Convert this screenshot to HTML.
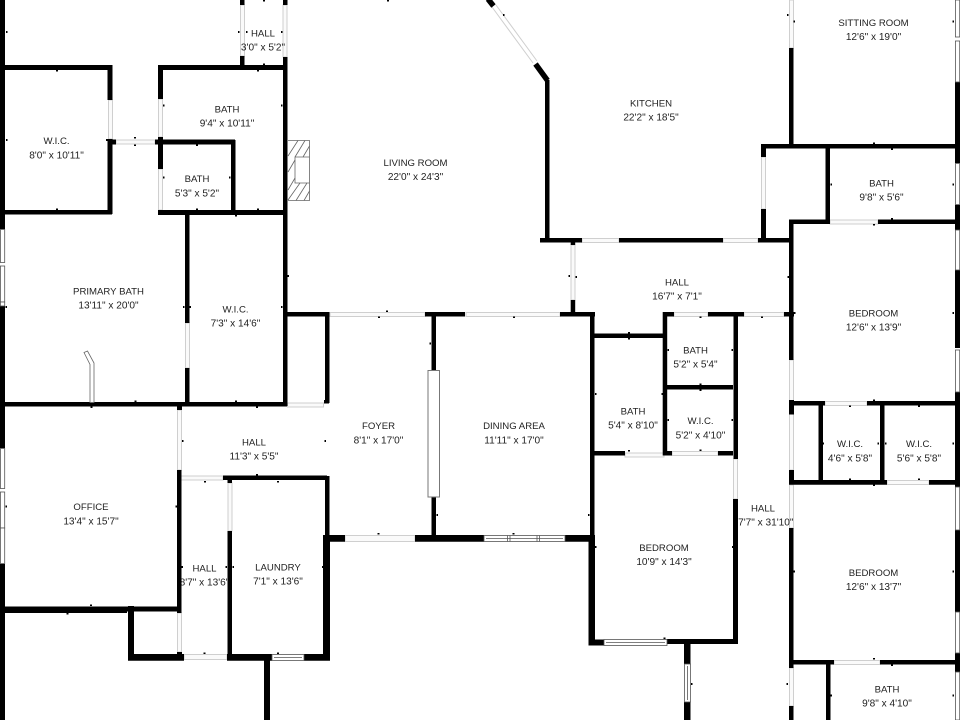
<!DOCTYPE html>
<html><head><meta charset="utf-8"><title>Floor plan</title>
<style>html,body{margin:0;padding:0;background:#fff}svg{display:block}text{font-family:"Liberation Sans",sans-serif;font-size:9.6px;fill:#222;text-anchor:middle}text:nth-child(even){font-size:10.1px}</style>
</head><body>
<svg width="960" height="720" viewBox="0 0 960 720" xmlns="http://www.w3.org/2000/svg">
<rect width="960" height="720" fill="#fff"/>
<!-- openings -->
<g fill="#fafafa" stroke="#cfcfcf" stroke-width="1">
<path d="M240.5 5h4v51h-4zM283 5h4v52h-4zM108.500 100h4v39h-4zM116 140h39v4h-39zM158.500 99h4v38h-4zM158.500 169h4v41h-4zM185.500 323h4v45h-4zM287.500 403h36v4h-36zM330 312.500h95v4h-95zM466 312.500h94v4h-94zM571 245h4v55h-4zM582 238.500h37v4h-37zM723 238.500h35v4h-35zM761.500 157h4v52h-4zM789.500 0h4v48h-4zM830 220h48v4h-48zM674 312.500h34v4h-34zM744 312.500h40v4h-40zM625 453h39v4h-39zM672 451.500h46v4h-46zM733.500 459h4v40h-4zM789.500 360h4v41h-4zM789.500 414h4v56h-4zM825 401.500h42v4h-42zM887 480.500h42v4h-42zM789.500 485h4v43h-4zM834 660.500h46v4h-46zM789.500 668h4v38h-4zM177.500 410h4v60h-4zM181 476h42v4h-42zM177.500 613h4v39h-4zM184 654.500h43v5h-43zM228 483h4v48h-4zM345 535.500h70v6h-70z"/>
</g>
<path d="M492 7 L533 63 M496 5 L537 61" stroke="#cfcfcf" stroke-width="1" fill="none"/>
<g>
<text x="263" y="36.5">HALL</text><text x="263" y="50.5">3'0" x 5'2"</text>
<text x="227" y="112.5">BATH</text><text x="227" y="126.5">9'4" x 10'11"</text>
<text x="56.5" y="144">W.I.C.</text><text x="56.5" y="158.5">8'0" x 10'11"</text>
<text x="197" y="182">BATH</text><text x="197" y="196.5">5'3" x 5'2"</text>
<text x="415.5" y="166">LIVING ROOM</text><text x="415.5" y="180">22'0" x 24'3"</text>
<text x="651" y="106.5">KITCHEN</text><text x="651" y="120.5">22'2" x 18'5"</text>
<text x="873.5" y="26">SITTING ROOM</text><text x="873.5" y="40">12'6" x 19'0"</text>
<text x="881.5" y="186.5">BATH</text><text x="881.5" y="200.5">9'8" x 5'6"</text>
<text x="108.5" y="294.5">PRIMARY BATH</text><text x="108.5" y="308.5">13'11" x 20'0"</text>
<text x="235.5" y="312.5">W.I.C.</text><text x="235.5" y="326.5">7'3" x 14'6"</text>
<text x="254" y="445.5">HALL</text><text x="254" y="459.5">11'3" x 5'5"</text>
<text x="378.5" y="429">FOYER</text><text x="378.5" y="443.5">8'1" x 17'0"</text>
<text x="514" y="429">DINING AREA</text><text x="514" y="443.5">11'11" x 17'0"</text>
<text x="633" y="414.5">BATH</text><text x="633" y="428.5">5'4" x 8'10"</text>
<text x="677" y="285.5">HALL</text><text x="677" y="299.5">16'7" x 7'1"</text>
<text x="695.5" y="353.5">BATH</text><text x="695.5" y="367.5">5'2" x 5'4"</text>
<text x="700.5" y="424">W.I.C.</text><text x="700.5" y="438.5">5'2" x 4'10"</text>
<text x="873.5" y="316.5">BEDROOM</text><text x="873.5" y="330.5">12'6" x 13'9"</text>
<text x="850" y="447">W.I.C.</text><text x="850" y="461.5">4'6" x 5'8"</text>
<text x="919" y="447">W.I.C.</text><text x="919" y="461.5">5'6" x 5'8"</text>
<text x="91" y="510">OFFICE</text><text x="91" y="524.5">13'4" x 15'7"</text>
<text x="204.5" y="571.5">HALL</text><text x="204.5" y="585.5">8'7" x 13'6"</text>
<text x="278" y="570.5">LAUNDRY</text><text x="278" y="584.5">7'1" x 13'6"</text>
<text x="664" y="551">BEDROOM</text><text x="664" y="565">10'9" x 14'3"</text>
<text x="763" y="511.5">HALL</text><text x="763" y="525.5">17'7" x 31'10"</text>
<text x="873.5" y="576">BEDROOM</text><text x="873.5" y="590">12'6" x 13'7"</text>
<text x="887" y="692.5">BATH</text><text x="887" y="706.5">9'8" x 4'10"</text>
</g>
<!-- walls -->
<path fill="#000" d="M0 0h5v229h-5zM0 306h5v142h-5zM0 564h5v156h-5z
M5 65h107v5h-107zM107.500 65h5v35h-5zM107.500 139h5v75h-5zM5 210h107v4.500h-107zM112 139.500h4v5h-4z
M158 65h129v5h-129zM158 65h5v34h-5zM158 137h5v32h-5zM158 210h129v5h-129zM155 139.500h80v5h-80zM231 140h4.500v73h-4.500z
M240 0h4.500v5h-4.500zM240 56h4.500v12h-4.500zM283 0h4.500v5h-4.500zM283 57h4.500v349h-4.500z
M185 213h4.500v110h-4.500zM185 368h4.500v36h-4.500z
M0 402h287v4.500h-287zM177 402h5v8h-5zM177 470h4.500v143h-4.500zM177 652h5v5h-5z
M287 312h40v4.500h-40zM325 312h4.500v91h-4.500zM324 400h5v3.500h-5z
M425 312h40v4.500h-40zM431.500 316h4.500v54h-4.500zM431.500 497h4.500v40h-4.500z
M560 312h35v4.500h-35zM570.700 238h4.500v7h-4.500zM570.700 300h4.500v13h-4.500zM590 312h4.500v223h-4.500zM588.500 535h6.500v110h-6.500zM588.500 639.500h15.500v6h-15.500z
M545 80h4.500v160h-4.500zM540 238h42v4.500h-42zM619 238h104v4.500h-104zM758 238h33v4.500h-33z
M667 639h71v5h-71zM733 499h5v145h-5zM684 644h6.500v20h-6.500zM684 702h6.500v18h-6.500z
M594 333.500h70v4.500h-70zM594 451h31v4.500h-31z
M662.700 312h4.500v143h-4.500zM662.700 312h11.300v4.500h-11.300zM708 312h36v4.500h-36zM733.500 316h4.500v143h-4.500zM667 385h66v4.500h-66zM662.700 451h9.300v4.500h-9.300zM718 451h15v4.500h-15zM784 312h10v4.500h-10z
M761 144h194v4.500h-194zM761 144h5v13h-5zM761 209h5v31h-5zM825.500 146h4.500v74h-4.500zM789 219.500h41v4.500h-41zM878 219.500h77v4.500h-77zM789 48h4.500v98h-4.500zM789 220h4.500v140h-4.500z
M955 82h5v70h-5zM955 144h5v19h-5zM955 205h5v25h-5zM955 270h5v78h-5zM955 392h5v95h-5zM955 530h5v82h-5zM955 653h5v19h-5z
M789 401h36v4.500h-36zM867 401h88v4.500h-88zM789 400h5v14.500h-5zM818.500 403h4.500v79h-4.500zM880 403h4.500v79h-4.500z
M789 480h98v4.700h-98zM929 480h26v4.700h-26zM789 470h5v10h-5zM789 528h4.500v140h-4.500zM789 660h45v4.500h-45zM880 660h75v4.500h-75zM789 706h4.500v14h-4.500zM826 664h4.500v56h-4.500z
M5 606.500h172v5h-172zM5 611h122v2h-122zM128 606h6v54h-6zM128 654h56v6.700h-56zM227 654h45v6.700h-45zM304 654h26v6.700h-26zM227.500 531h4.500v129h-4.500zM227.500 480h4.500v3h-4.500zM223 475.500h104v4.500h-104zM325 476h4.500v60h-4.500zM323 535h7v125h-7z
M327 535h18v6.700h-18zM415 535h69v6.700h-69zM565 535h30v6.700h-30zM264 660h6v60h-6z"/>
<path d="M547.500 80.500L535.500 64M493.500 6L488 -1" stroke="#000" stroke-width="5.500" fill="none"/>
<!-- windows -->
<g fill="#fff" stroke="#555" stroke-width=".8">
<rect x=".4" y="229.500" width="4.300" height="33"/><rect x=".4" y="266" width="4.300" height="36"/><rect x=".4" y="302" width="4.300" height="4"/>
<rect x=".4" y="448.500" width="4.300" height="40"/><rect x=".4" y="492" width="4.300" height="36"/><rect x=".4" y="528" width="4.300" height="35.500"/>
<rect x="955.400" y="0" width="4.300" height="37"/><rect x="955.400" y="41" width="4.300" height="41"/>
<rect x="955.400" y="163.500" width="4.300" height="41"/>
<rect x="955.400" y="230" width="4.300" height="40"/><rect x="955.400" y="350" width="4.300" height="42"/>
<rect x="955.400" y="487" width="4.300" height="43"/><rect x="955.400" y="612" width="4.300" height="41"/><rect x="955.400" y="672" width="4.300" height="48"/>
<rect x="484" y="535.500" width="81" height="6"/><path d="M486 538.500H563M507.500 535.500v6M510 535.500v6M537 535.500v6M539.500 535.500v6" fill="none"/>
<rect x="604" y="639.500" width="63" height="6"/><path d="M606 642.500H665" fill="none"/>
<rect x="684.500" y="664" width="6" height="38"/><path d="M687.500 666V700" fill="none"/>
<rect x="272" y="654.500" width="32" height="6"/><path d="M274 657.500H302" fill="none"/>
<rect x="428" y="370.500" width="11.500" height="126.500" stroke="#777" stroke-width="1"/>
</g>
<!-- fireplace -->
<g fill="none" stroke="#666" stroke-width=".8">
<path d="M288 140.500H309.500V200.500H288M295 157H309.500V183H295Z"/>
<path d="M288 156L298 140.500M288 172L295 160M295 157L305 140.500M303 157L309.500 146M288 190L295 178M288 200L300 183M296 200.500L307 183M304 200.500L309.500 191"/>
</g>
<!-- tub edge -->
<path d="M84 352.500L87.500 351L94 363V402.500H90V364.500Z" fill="#fff" stroke="#666" stroke-width=".8"/>
<!-- dimension ticks -->
<path fill="#000" d="M6 31h1.500v2h-1.500zM56 70h2v1.500h-2zM6 139h1.500v2h-1.500zM106 139h2v2h-2zM134 137h2v1.500h-2zM134 144.500h2v1.500h-2zM56 208.500h2v1.500h-2zM163 104.500h1.500v2h-1.500zM281 104.500h1.500v2h-1.500zM257 70h2v1.500h-2zM263 63.500h2v1.500h-2zM238 31h1.500v2h-1.500zM246 31h1.500v2h-1.500zM281 31h1.500v2h-1.500zM163 176.500h1.500v2h-1.500zM229 176.500h1.500v2h-1.500zM196 144.500h2v1.500h-2zM196 208.500h2v1.500h-2zM235 215h2v1.500h-2zM257 208.500h2v1.500h-2zM263 0h2v1.500h-2z
M503 14h1.500v2h-1.500zM387 0h2v1.500h-2zM787 14h1.500v2h-1.500zM793.500 20.500h1.500v2h-1.500zM952.500 20.500h1.500v2h-1.500zM873 142.500h2v1.500h-2zM891 148.500h2v1.500h-2zM830.500 183.500h1.500v2h-1.500zM952.500 183.500h1.500v2h-1.500zM891 218h2v1.500h-2zM873 224h2v1.500h-2z
M5.500 306h1.500v2h-1.500zM183 306h1.500v2h-1.500zM189.500 306h1.500v2h-1.500zM281 306h1.500v2h-1.500zM287.500 275h1.500v2h-1.500zM134.500 400.500h2v1.500h-2zM90.500 406.500h2v1.500h-2zM235 400.500h2v1.500h-2zM256 406.500h2v1.500h-2zM182 440h1.500v2h-1.500zM256 474h2v1.500h-2z
M386 310.500h2v1.500h-2zM378 316.500h2v1.500h-2zM327.500 342.500h1.500v2h-1.500zM429.500 342.500h1.500v2h-1.500zM513 316.500h2v1.500h-2zM568.500 275h1.500v2h-1.500zM575.500 276h1.500v2h-1.500zM628 332h2v1.500h-2zM628 338h2v1.500h-2zM595 393h1.500v2h-1.500zM628 450h2v1.500h-2zM324.500 440h1.500v2h-1.500z
M787.500 276h1.500v2h-1.500zM794 312h1.500v2h-1.500zM952.500 312h1.500v2h-1.500zM699.500 316.500h2v1.500h-2zM667.500 349h1.500v2h-1.500zM731.500 349h1.500v2h-1.500zM699.500 383.500h2v1.500h-2zM699.500 389.500h2v1.500h-2zM661.500 393h1.500v2h-1.500zM667.500 419h1.500v2h-1.500zM731.500 419h1.500v2h-1.500zM699.500 449.500h2v1.500h-2zM761 316.500h2v1.500h-2zM849 405.500h2v1.500h-2zM873 399.500h2v1.500h-2zM918 405.500h2v1.500h-2zM822.500 442.500h1.500v2h-1.500zM877.500 442.500h1.500v2h-1.500zM885 442.500h1.500v2h-1.500zM952.500 442.500h1.500v2h-1.500zM849 478.500h2v1.500h-2zM918 478.500h2v1.500h-2z
M5.500 505.500h1.500v2h-1.500zM175.500 505.500h1.500v2h-1.500zM204 481h2v1.500h-2zM277 481h2v1.500h-2zM181.500 566h1.500v2h-1.500zM225.500 566h1.500v2h-1.500zM232.500 566h1.500v2h-1.500zM90 604.500h2v1.500h-2zM66.500 613h2v1.500h-2zM203.500 652.500h2v1.500h-2zM277 652.500h2v1.500h-2z
M377.500 533h2v1.500h-2zM436.500 514h1.500v2h-1.500zM588 514h1.500v2h-1.500zM512.500 533h2v1.500h-2zM595 546h1.500v2h-1.500zM322 566h1.500v2h-1.500zM732 546h1.500v2h-1.500zM663.500 637.500h2v1.500h-2zM691 683h1.500v2h-1.500zM786.500 683h1.500v2h-1.500zM873 484.500h2v1.500h-2zM793.500 570.500h1.500v2h-1.500zM952.500 570.500h1.500v2h-1.500zM873 658h2v1.500h-2zM891 664.500h2v1.500h-2zM830.500 694.500h1.500v2h-1.500zM952.500 694.500h1.500v2h-1.500z"/>
</svg>
</body></html>
